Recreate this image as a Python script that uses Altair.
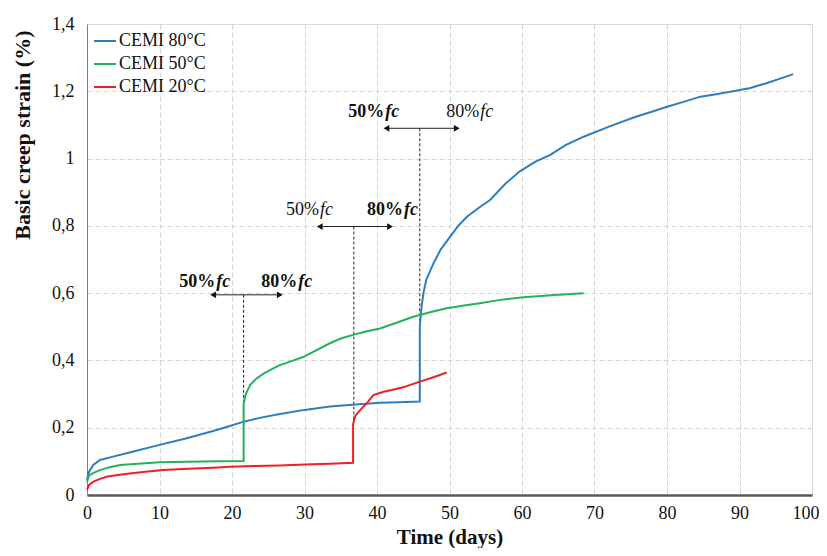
import altair as alt
import pandas as pd

# ---- data ----
series = ["CEMI 80°C", "CEMI 50°C", "CEMI 20°C"]
colors = ["#2e7ebf", "#22b35a", "#ee2026"]

t80 = [0, 0.3, 0.9, 1.8, 3.6, 6, 10, 13.5, 17.4, 19.7, 21.6, 24, 26.6, 30, 33.5, 37, 40.4, 43, 45.9,
       45.9, 46.1, 46.4, 46.8, 47.8, 48.8, 50.1, 51.2, 52.4, 54, 55.6, 57.7, 59.7, 61.8, 63.9, 66, 68.5,
       72, 75.4, 78, 80, 82.5, 84.6, 87, 89.1, 91.5, 93.7, 95.5, 97.4]
v80 = [0.045, 0.07, 0.09, 0.104, 0.114, 0.127, 0.149, 0.167, 0.19, 0.205, 0.218, 0.23, 0.241, 0.253,
       0.263, 0.269, 0.274, 0.276, 0.278,
       0.50, 0.55, 0.60, 0.64, 0.689, 0.73, 0.768, 0.80, 0.827, 0.853, 0.877, 0.925, 0.962, 0.99, 1.011,
       1.04, 1.065, 1.095, 1.122, 1.14, 1.154, 1.17, 1.184, 1.192, 1.2, 1.21, 1.224, 1.237, 1.251]

t50 = [0, 0.3, 0.9, 1.8, 3, 4.6, 7, 10, 14, 18, 21.6,
       21.6, 21.9, 22.5, 23.3, 24.3, 25.5, 26.6, 28.2, 29.8, 31.6, 33.5, 35, 36.7, 38.5, 40.4, 42.7,
       45, 47.3, 49.6, 52, 54.2, 57, 60.2, 64, 68.5]
v50 = [0.04, 0.058, 0.066, 0.074, 0.082, 0.089, 0.093, 0.097, 0.099, 0.100, 0.101,
       0.27, 0.30, 0.327, 0.345, 0.36, 0.374, 0.386, 0.398, 0.41, 0.43, 0.451, 0.465, 0.476, 0.486,
       0.495, 0.512, 0.53, 0.543, 0.555, 0.563, 0.570, 0.58, 0.588, 0.594, 0.60]

t20 = [0, 0.3, 0.9, 1.8, 2.7, 4, 5.9, 8, 10.5, 14, 17.4, 19.7, 23, 26.6, 30, 33.5, 36.7,
       36.7, 37.0, 37.7, 38.6, 39.5, 40.9, 42.2, 43.6, 45.9, 47.8, 49.6]
v20 = [0.015, 0.03, 0.04, 0.048, 0.054, 0.059, 0.064, 0.069, 0.074, 0.078, 0.081, 0.084, 0.086,
       0.088, 0.091, 0.093, 0.096,
       0.21, 0.235, 0.253, 0.273, 0.297, 0.307, 0.313, 0.32, 0.337, 0.35, 0.364]

# load-change annotations
arrow_t_start = [17.4, 32.1, 41.3]
arrow_t_end = [26.6, 41.8, 51.0]
arrow_t_mid = [21.6, 36.8, 45.9]
arrow_v = [0.595, 0.798, 1.09]
arrow_v_low = [0.22, 0.22, 0.30]

label_t = [17.7, 29.0, 32.0, 43.6, 41.0, 54.1]
label_v = [0.634, 0.634, 0.847, 0.847, 1.139, 1.139]
label_txt = ["50%", "80%", "50%", "80%", "50%", "80%"]
label_bold = [True, True, False, True, True, False]

x_ticks = [0, 10, 20, 30, 40, 50, 60, 70, 80, 90, 100]
y_ticks = [0, 0.2, 0.4, 0.6, 0.8, 1.0, 1.2, 1.4]

# ---- tables ----
rows = []
for name, ts, vs in zip(series, [t80, t50, t20], [v80, v50, v20]):
    for i, (a, b) in enumerate(zip(ts, vs)):
        rows.append({"series": name, "t": a, "v": b, "i": i})
df = pd.DataFrame(rows)

arrows = pd.DataFrame({"t0": arrow_t_start, "t1": arrow_t_end, "tm": arrow_t_mid,
                       "v": arrow_v, "vl": arrow_v_low})
heads = pd.DataFrame({
    "t": arrow_t_start + arrow_t_end,
    "v": arrow_v + arrow_v,
    "side": ["left"] * len(arrow_t_start) + ["right"] * len(arrow_t_end),
})
labels = pd.DataFrame({"t": label_t, "v": label_v, "txt": label_txt, "bold": label_bold})

serif = "Liberation Serif"
ink = "#111111"
xs = alt.Scale(domain=[0, 100], nice=False)
ys = alt.Scale(domain=[0, 1.4], nice=False)

x_axis = alt.Axis(
    title="Time (days)", values=x_ticks, ticks=False, labelPadding=9, labelFlush=False,
    labelAlign={"condition": {"test": "datum.value >= 100", "value": "right"}, "value": "center"},
    labelOffset={"condition": {"test": "datum.value >= 100", "value": 7}, "value": 0},
    labelFont=serif, labelFontSize=18, labelColor=ink,
    titleFont=serif, titleFontSize=21, titleFontWeight="bold", titleColor=ink, titlePadding=4,
    domainColor="#595959", domainWidth=2.5,
    grid=True, gridColor="#d6d6d6", gridDash=[5, 3], gridWidth=1,
)
y_axis = alt.Axis(
    title="Basic creep strain (%)", values=y_ticks, ticks=False, labelPadding=13, labelFlush=False,
    labelExpr="replace(format(datum.value, '.1~f'), '.', ',')",
    labelFont=serif, labelFontSize=18, labelColor=ink,
    titleFont=serif, titleFontSize=22, titleFontWeight="bold", titleColor=ink,
    titleAngle=270, titleAlign="right", titleBaseline="middle", titleX=-65, titleY=6,
    domainColor="#7f7f7f", domainWidth=1,
    grid=True, gridColor="#d6d6d6", gridDash=[5, 3], gridWidth=1,
)


def X(field):
    return alt.X(field, scale=xs, axis=x_axis)


def Y(field):
    return alt.Y(field, scale=ys, axis=y_axis)


lines = alt.Chart(df).mark_line(strokeWidth=2).encode(
    x=X("t:Q"),
    y=Y("v:Q"),
    color=alt.Color("series:N", sort=series,
                    scale=alt.Scale(domain=series, range=colors),
                    legend=alt.Legend(title=None, orient="none", legendX=6, legendY=5,
                                      symbolType="stroke", symbolSize=484, symbolStrokeWidth=2,
                                      labelFont=serif, labelFontSize=18, labelColor=ink,
                                      rowPadding=2, labelOffset=2, padding=0)),
    order="i:Q",
    detail="series:N",
)

dashed = alt.Chart(arrows).mark_rule(color="#222222", strokeDash=[3, 2], strokeWidth=1).encode(
    x=X("tm:Q"), y=Y("v:Q"), y2="vl:Q")

hlines = alt.Chart(arrows).mark_rule(color="#222222", strokeWidth=1).encode(
    x=X("t0:Q"), x2="t1:Q", y=Y("v:Q"))

head_l = alt.Chart(heads).transform_filter("datum.side == 'left'").mark_point(
    shape="triangle-left", filled=True, color="#111111", size=45, opacity=1).encode(
    x=X("t:Q"), y=Y("v:Q"))
head_r = alt.Chart(heads).transform_filter("datum.side == 'right'").mark_point(
    shape="triangle-right", filled=True, color="#111111", size=45, opacity=1).encode(
    x=X("t:Q"), y=Y("v:Q"))


def label_layer(bold, part):
    weight = "bold" if bold else "normal"
    base = alt.Chart(labels).transform_filter(
        "datum.bold" if bold else "!datum.bold")
    if part == "num":
        m = base.mark_text(font=serif, fontSize=18, fontWeight=weight, align="right",
                           baseline="middle", color=ink)
        return m.encode(x=X("t:Q"), y=Y("v:Q"), text="txt:N")
    m = base.mark_text(font=serif, fontSize=18, fontWeight=weight, fontStyle="italic",
                       align="left", baseline="middle", color=ink, dx=1)
    return m.encode(x=X("t:Q"), y=Y("v:Q"), text=alt.value("fc"))


chart = alt.layer(
    dashed, hlines, head_l, head_r, lines,
    label_layer(True, "num"), label_layer(False, "num"),
    label_layer(True, "fc"), label_layer(False, "fc"),
).properties(
    width=725, height=471,
    autosize=alt.AutoSizeParams(type="none"),
    padding={"left": 79, "top": 16, "right": 7, "bottom": 53},
).configure_view(stroke="#a0a0a0", strokeWidth=1).configure(background="white")

chart.save("out.html", embed_options={"renderer": "svg", "actions": False})
